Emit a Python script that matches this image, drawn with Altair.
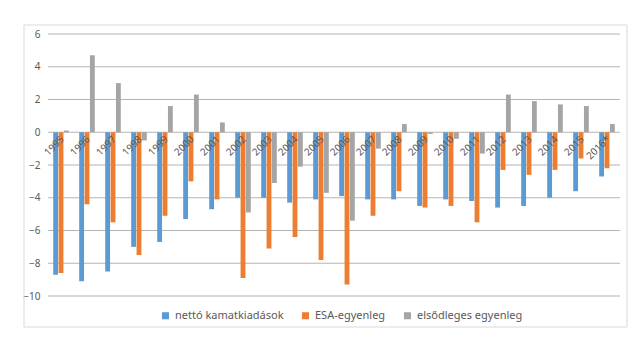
import altair as alt
import pandas as pd

years = ["1995", "1996", "1997", "1998", "1999", "2000", "2001", "2002", "2003", "2004",
         "2005", "2006", "2007", "2008", "2009", "2010", "2011", "2012", "2013", "2014",
         "2015", "2016*"]
netto = [-8.7, -9.1, -8.5, -7.0, -6.7, -5.3, -4.7, -4.0, -4.0, -4.3,
         -4.1, -3.9, -4.1, -4.1, -4.5, -4.1, -4.2, -4.6, -4.5, -4.0,
         -3.6, -2.7]
esa = [-8.6, -4.4, -5.5, -7.5, -5.1, -3.0, -4.1, -8.9, -7.1, -6.4,
       -7.8, -9.3, -5.1, -3.6, -4.6, -4.5, -5.5, -2.3, -2.6, -2.3,
       -1.6, -2.2]
elsodleges = [0.1, 4.7, 3.0, -0.5, 1.6, 2.3, 0.6, -4.9, -3.1, -2.1,
              -3.7, -5.4, -1.0, 0.5, -0.1, -0.4, -1.3, 2.3, 1.9, 1.7,
              1.6, 0.5]
series = ["nettó kamatkiadások", "ESA-egyenleg", "elsődleges egyenleg"]
colors = ["#5B9BD5", "#ED7D31", "#A5A5A5"]
y_ticks = [-10, -8, -6, -4, -2, 0, 2, 4, 6]

rows = []
for i, yr in enumerate(years):
    for s, vals in zip(series, [netto, esa, elsodleges]):
        rows.append({"year": yr, "series": s, "value": vals[i]})
df = pd.DataFrame(rows)

FONT = "Noto Sans"
TXT = "#595959"
GRID = "#B4B4B4"
FRAME = "#D9D9D9"

xscale = alt.Scale(domain=years, paddingInner=0.4, paddingOuter=0.2)
yscale = alt.Scale(domain=[-10, 6], nice=False)
yaxis = alt.Axis(values=y_ticks, grid=False, domain=False,
                 ticks=False, labelColor=TXT, labelFont=FONT, labelFontSize=10,
                 labelPadding=8, title=None)

frame = alt.Chart(pd.DataFrame({"a": [0]})).mark_rect(
    fillOpacity=0, stroke=FRAME, strokeWidth=1
).encode(x=alt.value(-24), x2=alt.value(579), y=alt.value(-9), y2=alt.value(293))

grid = alt.Chart(pd.DataFrame({"t": y_ticks})).mark_tick(
    color=GRID, thickness=1, size=572, orient="horizontal", opacity=1
).encode(
    y=alt.Y("t:Q", scale=yscale, axis=yaxis),
    x=alt.value(286),
)

bars = alt.Chart(df).mark_bar().encode(
    x=alt.X("year:N", sort=years, scale=xscale, axis=None, title=None),
    xOffset=alt.XOffset("series:N", sort=series, scale=alt.Scale(domain=series, paddingInner=0.1)),
    y=alt.Y("value:Q", scale=yscale, axis=yaxis),
    color=alt.Color("series:N", sort=series,
                    scale=alt.Scale(domain=series, range=colors),
                    legend=alt.Legend(orient="none", legendX=112, legendY=276,
                                      direction="horizontal", title=None,
                                      symbolType="square", symbolSize=50, symbolStrokeWidth=0,
                                      labelFont=FONT, labelFontSize=11, labelColor=TXT,
                                      columnPadding=16)),
)

labels = alt.Chart(pd.DataFrame({"year": years, "z": [0] * len(years)})).mark_text(
    angle=315, align="right", baseline="middle", dx=-3, dy=5,
    font=FONT, fontSize=10, color=TXT
).encode(
    x=alt.X("year:N", sort=years, scale=xscale, axis=None),
    y=alt.Y("z:Q", scale=yscale, axis=yaxis),
    text="year:N",
)

chart = alt.layer(grid, bars, labels, frame).properties(
    width=572, height=262,
    background="white",
    autosize=alt.AutoSizeParams(type="none"),
    padding={"left": 40, "top": 26, "right": 12, "bottom": 36},
).configure_view(stroke=None)

chart.save("out.html", embed_options={"renderer": "svg", "actions": False})
